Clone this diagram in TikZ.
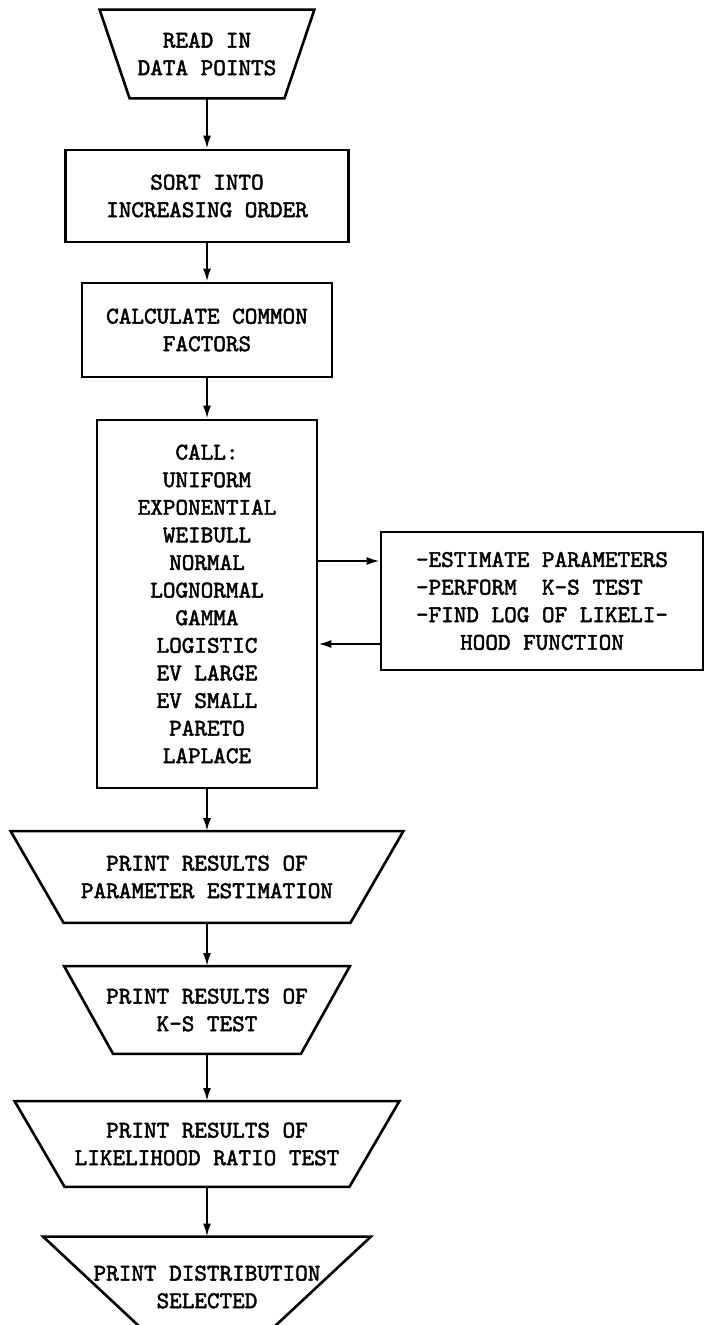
\documentclass[tikz,border=0pt]{standalone}
\usepackage{fontspec}
\newfontfamily\typeFont{lmmono10-regular}[Extension=.otf, FakeBold=2]
\usetikzlibrary{arrows.meta, calc}
\tikzset{
  flowArrow/.style={-{Latex[length=6.5pt, width=4pt]}, line width=1.1pt},
  chartText/.style={font=\typeFont\fontsize{12}{13.8}\selectfont},
  % caixas de processo
  procBox/.style={draw, line width=1.3pt, chartText, align=center, inner sep=2pt},
  % entrada/saida: so o texto, o contorno vem de \ioOutline
  ioBox/.style={chartText, align=center, inner sep=0pt},
  ioLine/.style={line width=1.3pt, line join=miter}
}
% trapezio invertido em volta do no (#2 = recuo de cada lado embaixo)
\newcommand{\ioOutline}[2]{%
  \draw[ioLine] (#1.north west) -- (#1.north east)
    -- ([xshift=-#2]#1.south east) -- ([xshift=#2]#1.south west) -- cycle;}

\begin{document}
\begin{tikzpicture}[x=0.5pt, y=-0.5pt]
  \useasboundingbox (0,0) rectangle (705,1325);
  \clip (0,0) rectangle (705,1325);

  %% --- COLUNA PRINCIPAL ---
  \node[ioBox, minimum width=107pt, minimum height=44pt] (readData) at (207,54)
    {READ IN\\DATA POINTS};
  \ioOutline{readData}{15pt}
  \node[procBox, minimum width=141.5pt, minimum height=46pt] (sortOrder) at (207,196)
    {SORT INTO\\INCREASING ORDER};
  \node[procBox, minimum width=125pt, minimum height=47pt] (commonFactors) at (207,330)
    {CALCULATE COMMON\\FACTORS};
  \node[procBox, minimum width=110pt, minimum height=184pt] (callDist) at (207,604)
    {CALL:\\UNIFORM\\EXPONENTIAL\\WEIBULL\\NORMAL\\LOGNORMAL\\GAMMA\\LOGISTIC\\EV LARGE\\EV SMALL\\PARETO\\LAPLACE};

  % Sub-rotina chamada por cada distribuicao
  \node[procBox, align=left, minimum width=161pt, minimum height=69pt] (sideTasks) at (542,601)
    {-ESTIMATE PARAMETERS\\-PERFORM\ \ K-S TEST\\-FIND LOG OF LIKELI-\\\hspace*{1.84em}HOOD FUNCTION};

  %% --- SAIDAS ---
  \node[ioBox, minimum width=196pt, minimum height=45.5pt] (printEstim) at (207,877)
    {PRINT RESULTS OF\\PARAMETER ESTIMATION};
  \ioOutline{printEstim}{26.5pt}
  \node[ioBox, minimum width=142.5pt, minimum height=43.5pt] (printKS) at (207,1010)
    {PRINT RESULTS OF\\K-S TEST};
  \ioOutline{printKS}{24.5pt}
  \node[ioBox, minimum width=192pt, minimum height=42.5pt] (printRatio) at (207,1144)
    {PRINT RESULTS OF\\LIKELIHOOD RATIO TEST};
  \ioOutline{printRatio}{25pt}
  \node[ioBox, minimum width=163.5pt, minimum height=50pt] (printSelect) at (207,1287)
    {PRINT DISTRIBUTION\\SELECTED};
  \ioOutline{printSelect}{54pt}

  % Setas verticais
  \draw[flowArrow] (readData) -- (sortOrder);
  \draw[flowArrow] (sortOrder) -- (commonFactors);
  \draw[flowArrow] (commonFactors) -- (callDist);
  \draw[flowArrow] (callDist) -- (printEstim);
  \draw[flowArrow] (printEstim) -- (printKS);
  \draw[flowArrow] (printKS) -- (printRatio);
  \draw[flowArrow] (printRatio) -- (printSelect);

  % Ida e volta para a sub-rotina
  \coordinate (toTasks) at ($(sideTasks.west)+(0,-40)$);
  \coordinate (fromTasks) at ($(sideTasks.west)+(0,43)$);
  \draw[flowArrow] (toTasks -| callDist.east) -- (toTasks);
  \draw[flowArrow] (fromTasks) -- (fromTasks -| callDist.east);
\end{tikzpicture}
\end{document}
